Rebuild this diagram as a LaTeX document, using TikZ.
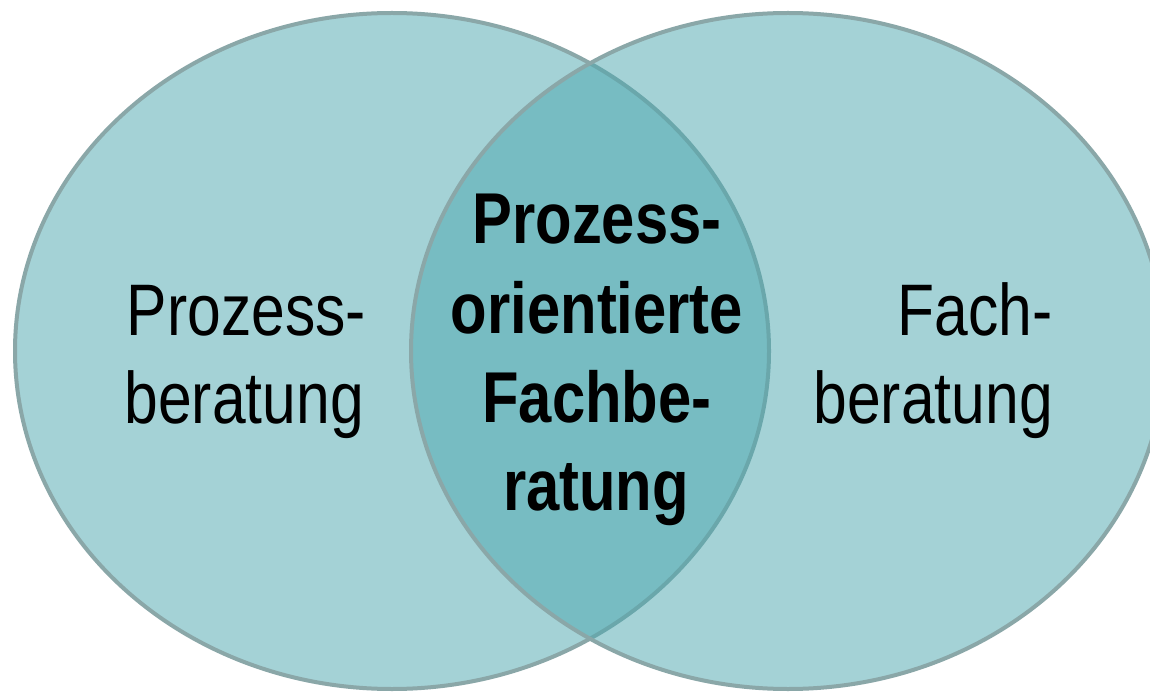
\documentclass[tikz,border=0pt]{standalone}
\usepackage{fontspec}
\setmainfont[FakeStretch=0.83]{Liberation Sans}
\definecolor{vennfill}{HTML}{4BA7AF}
\definecolor{vennline}{HTML}{8AA7A8}
\tikzset{
  venn/.style={fill=vennfill, fill opacity=0.5, draw=vennline, line width=4pt},
  lbl/.style={inner sep=0pt, font=\fontsize{73}{88}\selectfont},
  boldlbl/.style={inner sep=0pt, font=\fontsize{72}{88}\selectfont\bfseries, anchor=base},
}
\begin{document}
\begin{tikzpicture}[x=1pt,y=-1pt]
\useasboundingbox (0,0) rectangle (1150,692);
\fill[white] (0,0) rectangle (1150,692);
\draw[venn] (392,351) ellipse [x radius=377, y radius=338];
\draw[venn] (788,351) ellipse [x radius=377, y radius=338];
\node[lbl, anchor=base east] (l1) at (366,335) {Prozess-};
\node[lbl, anchor=base east] (l2) at (364,423) {beratung};
\node[lbl, anchor=base east] (r1) at (1053,335) {Fach-};
\node[lbl, anchor=base east] (r2) at (1053,423) {beratung};
\node[boldlbl] (c1) at (597,244) {Prozess-};
\node[boldlbl] (c2) at (597,333) {orientierte};
\node[boldlbl] (c3) at (597,422) {Fachbe-};
\node[boldlbl] (c4) at (596,510) {ratung};
\end{tikzpicture}
\end{document}
